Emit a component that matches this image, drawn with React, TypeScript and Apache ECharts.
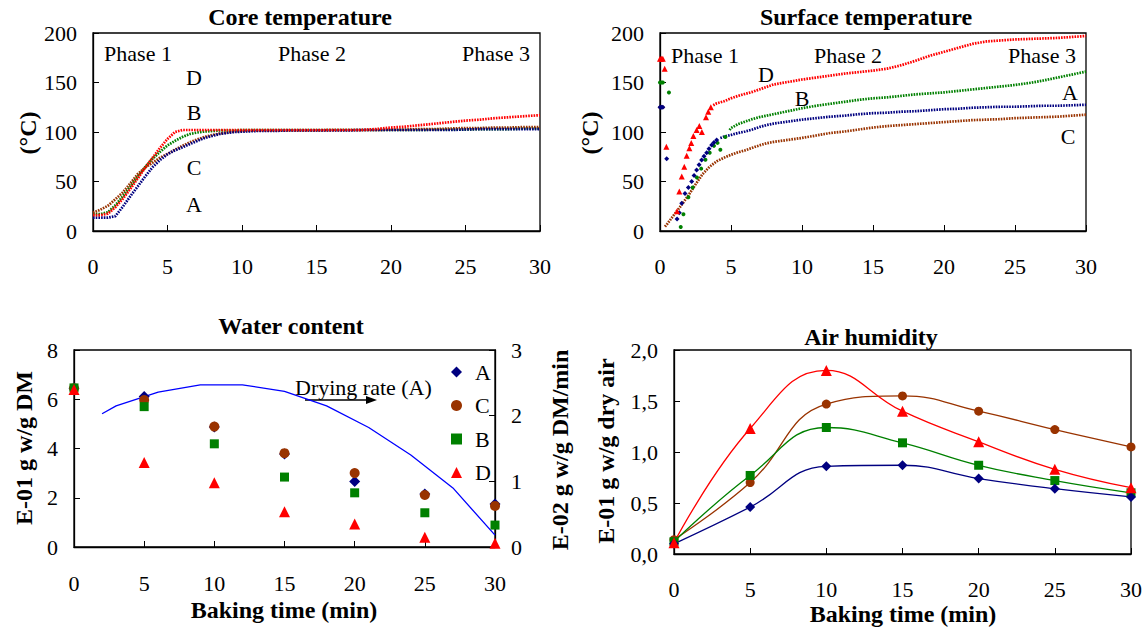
import React, { useEffect, useRef } from 'react';
import * as echarts from 'echarts';

const FONT = 'Liberation Serif, Times New Roman, serif';
const NAVY = '#000080';
const RED = '#FF0000';
const GREEN = '#008000';
const BROWN = '#993300';

// ---- Core temperature ----
const coreT = [0, 0.5, 1, 1.5, 2, 2.5, 3, 3.5, 4, 4.5, 5, 5.5, 6, 6.5, 7, 7.5, 8, 8.5, 9, 9.5, 10, 11, 12, 13, 14, 15, 16, 17, 18, 19, 20, 21, 22, 23, 24, 25, 26, 27, 28, 29, 30];
const coreA = [13.5, 13.5, 13.5, 15, 24.5, 35, 45, 55, 64.5, 71.7, 77.5, 81.5, 84.5, 87.8, 91, 94, 96, 98, 99, 100, 100.3, 101, 101, 101.5, 101.5, 101.5, 101.5, 101.5, 102, 102, 102, 102, 102, 102, 102, 102.5, 103, 103, 103, 103, 103];
const coreB = [17, 17, 19, 26, 35, 45, 55, 64.5, 73, 80, 86.5, 91, 95, 98, 99.5, 100.5, 101, 101.5, 101.5, 101.5, 102, 102, 102, 102, 102, 102, 102, 102, 102, 102, 102, 102, 102, 102.5, 102.5, 102.5, 103, 103, 103, 103.5, 103.5];
const coreC = [18.5, 21.5, 25.5, 32, 39, 48, 57.5, 64, 69, 74, 78, 82, 86, 89.5, 92.5, 95, 97, 98.5, 99.5, 100.5, 101, 101.5, 101.5, 101.5, 101.5, 101.5, 102, 102, 102, 102, 102.5, 102.5, 103, 103, 103.5, 104, 104, 104.5, 104.5, 105, 105];
const coreD = [16, 16, 17.5, 24, 32.5, 42.5, 53, 64, 74, 84, 93, 100, 102, 102, 102, 102, 102, 102, 102, 102, 102, 102, 102, 102, 102, 102, 102, 102, 102, 103, 104.5, 105.5, 107, 108.5, 110, 111.5, 112.5, 114, 115, 116, 117];

// ---- Surface temperature ----
const surfDEarlyT = [0, 0.1, 0.2, 0.33, 0.45, 1.2, 1.36, 1.53, 1.71, 1.88, 2.07, 2.2, 2.35, 2.58, 2.77, 2.95, 3.24, 3.4, 3.58];
const surfDEarly = [174, 174, 174, 164, 85, 20, 40, 55, 65, 76, 83.5, 89, 96, 102, 106, 100, 115, 120.5, 125];
const surfDT = [3.75, 4, 4.5, 5, 5.5, 6, 6.5, 7, 7.5, 8, 9, 10, 11, 12, 13, 14, 15, 16, 17, 18, 19, 20, 21, 22, 23, 24, 25, 26, 27, 28, 29, 30];
const surfD = [127, 129, 131, 134, 136.5, 138.5, 140.5, 143, 145.5, 148, 150.5, 153, 155, 157, 159, 160.5, 162, 164, 167.5, 172, 177, 181, 185, 189, 191.5, 192.5, 193.5, 194, 194.5, 195, 196, 197];

const surfBEarlyT = [0, 0.1, 0.2, 0.63, 1.46, 1.65, 2.0, 2.3, 2.6, 2.9, 3.2, 3.5, 3.8, 4.05, 4.25, 4.6];
const surfBEarly = [150, 150, 150, 140, 4, 17, 34, 44, 54, 63, 72, 79, 86, 89, 82, 95];
const surfBT = [4.9, 5, 5.5, 6, 6.5, 7, 7.5, 8, 9, 10, 11, 12, 13, 14, 15, 16, 17, 18, 19, 20, 21, 22, 23, 24, 25, 26, 27, 28, 29, 30];
const surfB = [102, 104, 108, 110.5, 113, 115, 116.5, 118, 121, 124, 126.5, 128.5, 130.5, 132.5, 134, 135, 136.5, 138, 139, 140, 141.5, 143, 144.5, 146, 147.5, 149.5, 152, 155, 158, 161];

const surfAEarlyT = [0, 0.1, 0.2, 0.47, 1.2, 1.36, 1.53, 1.76, 2.0, 2.23, 2.4, 2.58, 2.75, 2.93, 3.1, 3.29, 3.45, 3.64, 3.8, 3.99];
const surfAEarly = [125, 125, 125, 73, 12, 18.5, 28, 38, 44, 50, 56, 61.6, 67, 71.7, 75.5, 79, 83, 86.9, 89.5, 92];
const surfAT = [4.25, 4.5, 5, 5.5, 6, 6.5, 7, 7.5, 8, 9, 10, 11, 12, 13, 14, 15, 16, 17, 18, 19, 20, 21, 22, 23, 24, 25, 26, 27, 28, 29, 30];
const surfA = [94, 95.3, 97, 99, 100.5, 102.5, 105, 107, 108.5, 110.5, 112.5, 114, 115.5, 116.5, 118, 119, 119.5, 120.5, 121, 122, 123, 123.5, 124.5, 125, 125.5, 125.5, 126, 126.5, 126.5, 127, 127.5];

const surfCEarlyT = [0, 0.1, 0.2];
const surfCEarly = [125, 125, 125];
const surfCT = [0.35, 0.5, 1, 1.5, 2, 2.5, 3, 3.5, 4, 4.5, 5, 5.5, 6, 6.5, 7, 7.5, 8, 9, 10, 11, 12, 13, 14, 15, 16, 17, 18, 19, 20, 21, 22, 23, 24, 25, 26, 27, 28, 29, 30];
const surfC = [4.4, 7, 16.5, 26, 36, 47, 57.5, 65, 70.5, 74, 77, 79.5, 81.5, 84, 86.5, 88.6, 90, 92, 94, 96.5, 99, 100.5, 102.5, 104.5, 106, 107, 108, 109, 110, 111, 112, 112.5, 113, 114, 114.5, 115, 115.5, 116.5, 117.5];

// ---- Water content ----
const wcT = [0, 5, 10, 15, 20, 25, 30];
const wcA = [6.45, 6.11, 4.87, 3.78, 2.66, 2.15, 1.75];
const wcC = [6.45, 5.97, 4.89, 3.81, 3.0, 2.11, 1.67];
const wcB = [6.46, 5.7, 4.19, 2.84, 2.2, 1.39, 0.89];
const wcD = [6.4, 3.43, 2.61, 1.43, 0.93, 0.4, 0.15];
const drT = [2, 3, 6, 9, 12, 15, 18, 21, 24, 27, 30];
const drA = [2.03, 2.15, 2.36, 2.47, 2.47, 2.37, 2.15, 1.82, 1.4, 0.9, 0.18];

// ---- Air humidity ----
const ahT = [0, 5, 10, 15, 20, 25, 30];
const ahA = [0.1, 0.46, 0.86, 0.87, 0.74, 0.64, 0.56];
const ahC = [0.14, 0.7, 1.47, 1.55, 1.4, 1.22, 1.05];
const ahB = [0.12, 0.77, 1.24, 1.09, 0.87, 0.72, 0.6];
const ahD = [0.11, 1.23, 1.8, 1.4, 1.1, 0.83, 0.65];

const xTicks = [0, 5, 10, 15, 20, 25, 30];

const zip = (t: number[], v: number[]) => t.map((x, i) => [x, v[i]]);

const labelStyle = { fontSize: 22, fontFamily: FONT, color: '#000' };

const xAx = (gridIndex: number, margin = 26) => ({
  type: 'value',
  gridIndex,
  min: xTicks[0],
  max: xTicks[xTicks.length - 1],
  interval: xTicks[1] - xTicks[0],
  axisLine: { show: true, onZero: false, lineStyle: { color: '#000', width: 1.3 } },
  axisTick: { show: true, inside: true, length: 6, lineStyle: { color: '#000', width: 1 } },
  axisLabel: { ...labelStyle, margin, lineHeight: 18 },
  splitLine: { show: false },
});

const yAx = (gridIndex: number, max: number, interval: number, position = 'left', fmt?: (v: number) => string) => ({
  type: 'value',
  gridIndex,
  min: 0,
  max,
  interval,
  position,
  axisLine: { show: true, onZero: false, lineStyle: { color: '#000', width: 1.3 } },
  axisTick: { show: true, inside: true, length: 6, lineStyle: { color: '#000', width: 1 } },
  axisLabel: { ...labelStyle, margin: 16, formatter: fmt },
  splitLine: { show: false },
});

const dotted = (name: string, data: number[][], color: string, xi: number, yi: number, z = 2) => ({
  type: 'line',
  name,
  data,
  xAxisIndex: xi,
  yAxisIndex: yi,
  symbol: 'none',
  showSymbol: false,
  silent: true,
  z,
  lineStyle: { color, width: 2.7, type: [1.6, 1.1] },
});

const scat = (name: string, data: number[][], color: string, symbol: string, size: number, xi: number, yi: number, z = 3) => ({
  type: 'scatter',
  name,
  data,
  xAxisIndex: xi,
  yAxisIndex: yi,
  symbol,
  symbolSize: size,
  silent: true,
  z,
  itemStyle: { color, opacity: 1 },
});

const smoothLine = (name: string, data: number[][], color: string, symbol: string, size: number) => ({
  type: 'line',
  name,
  data,
  xAxisIndex: 3,
  yAxisIndex: 4,
  smooth: 0.45,
  symbol,
  symbolSize: size,
  showSymbol: true,
  silent: true,
  lineStyle: { color, width: 1.3 },
  itemStyle: { color, opacity: 1 },
});

const txt = (text: string, x: number, y: number, opts: any = {}) => ({
  type: 'text',
  x,
  y,
  rotation: opts.rotation || 0,
  silent: true,
  style: {
    text,
    fill: '#000',
    fontSize: opts.size || 22,
    fontWeight: opts.bold ? 'bold' : 'normal',
    fontFamily: FONT,
    align: opts.align || 'center',
    verticalAlign: 'middle',
  },
});

export default function App() {
  const ref = useRef<HTMLDivElement>(null);
  useEffect(() => {
    const chart = echarts.init(ref.current!, null, { renderer: 'svg' });
    const gridBase = { show: true, borderColor: '#000', borderWidth: 1.3, backgroundColor: 'transparent' };
    const option: any = {
      animation: false,
      backgroundColor: '#fff',
      grid: [
        { ...gridBase, left: 93, top: 33, width: 447, height: 198 },
        { ...gridBase, left: 660, top: 33, width: 426, height: 198 },
        { ...gridBase, left: 74, top: 350, width: 421, height: 197 },
        { ...gridBase, left: 674, top: 350, width: 457, height: 204 },
      ],
      xAxis: [xAx(0), xAx(1), xAx(2, 27), xAx(3, 26)],
      yAxis: [
        yAx(0, 200, 50),
        yAx(1, 200, 50),
        yAx(2, 8, 2),
        yAx(2, 3, 1, 'right'),
        yAx(3, 2, 0.5, 'left', (v: number) => v.toFixed(1).replace('.', ',')),
      ],
      legend: {
        data: ['A', 'C', 'B', 'D'],
        orient: 'vertical',
        left: 451,
        top: 361,
        padding: 0,
        itemWidth: 11,
        itemHeight: 11,
        itemGap: 11.5,
        selectedMode: false,
        textStyle: { ...labelStyle, lineHeight: 22, padding: [0, 0, 0, 8] },
      },
      series: [
        // Core temperature
        dotted('core B', zip(coreT, coreB), GREEN, 0, 0, 2),
        dotted('core C', zip(coreT, coreC), BROWN, 0, 0, 3),
        dotted('core A', zip(coreT, coreA), NAVY, 0, 0, 4),
        dotted('core D', zip(coreT, coreD), RED, 0, 0, 5),
        // Surface temperature
        dotted('surf C', zip(surfCT, surfC), BROWN, 1, 1, 2),
        scat('surf C0', zip(surfCEarlyT, surfCEarly), BROWN, 'circle', 3.5, 1, 1, 2),
        dotted('surf A', zip(surfAT, surfA), NAVY, 1, 1, 3),
        scat('surf A0', zip(surfAEarlyT, surfAEarly), NAVY, 'diamond', 5, 1, 1, 4),
        dotted('surf B', zip(surfBT, surfB), GREEN, 1, 1, 3),
        scat('surf B0', zip(surfBEarlyT, surfBEarly), GREEN, 'circle', 4, 1, 1, 3),
        dotted('surf D', zip(surfDT, surfD), RED, 1, 1, 4),
        scat('surf D0', zip(surfDEarlyT, surfDEarly), RED, 'triangle', 6, 1, 1, 4),
        // Water content
        {
          type: 'line',
          name: 'Drying rate (A)',
          data: zip(drT, drA),
          xAxisIndex: 2,
          yAxisIndex: 3,
          symbol: 'none',
          silent: true,
          lineStyle: { color: '#0000FF', width: 1.3 },
          z: 2,
        },
        scat('A', zip(wcT, wcA), NAVY, 'diamond', 11, 2, 2, 3),
        scat('C', zip(wcT, wcC), BROWN, 'circle', 10, 2, 2, 4),
        scat('B', zip(wcT, wcB), GREEN, 'rect', 9, 2, 2, 5),
        scat('D', zip(wcT, wcD), RED, 'triangle', 11, 2, 2, 6),
        // Air humidity
        smoothLine('air C', zip(ahT, ahC), BROWN, 'circle', 9),
        smoothLine('air B', zip(ahT, ahB), GREEN, 'rect', 9),
        smoothLine('air A', zip(ahT, ahA), NAVY, 'diamond', 10),
        smoothLine('air D', zip(ahT, ahD), RED, 'triangle', 11),
      ],
      graphic: [
        // titles
        txt('Core temperature', 300, 17, { bold: true, size: 24 }),
        txt('Surface temperature', 866, 17, { bold: true, size: 24 }),
        txt('Water content', 291, 326, { bold: true, size: 24 }),
        txt('Air humidity', 871, 337, { bold: true, size: 24 }),
        // axis names
        txt('(°C)', 28, 133, { bold: true, size: 24, rotation: Math.PI / 2 }),
        txt('(°C)', 590, 133, { bold: true, size: 24, rotation: Math.PI / 2 }),
        txt('E-01 g w/g DM', 24, 448, { bold: true, size: 24, rotation: Math.PI / 2 }),
        txt('E-02 g w/g DM/min', 560, 450, { bold: true, size: 24, rotation: Math.PI / 2 }),
        txt('E-01 g w/g dry air', 606, 451, { bold: true, size: 24, rotation: Math.PI / 2 }),
        txt('Baking time (min)', 284, 610, { bold: true, size: 24 }),
        txt('Baking time (min)', 903, 614, { bold: true, size: 24 }),
        // core annotations
        txt('Phase 1', 138, 53),
        txt('Phase 2', 312, 53),
        txt('Phase 3', 496, 53),
        txt('D', 194, 77),
        txt('B', 194, 112),
        txt('C', 194, 167),
        txt('A', 194, 204),
        // surface annotations
        txt('Phase 1', 705, 55),
        txt('Phase 2', 848, 55),
        txt('Phase 3', 1042, 55),
        txt('D', 766, 74),
        txt('B', 802, 98),
        txt('A', 1070, 92),
        txt('C', 1068, 136),
        // drying rate annotation
        txt('Drying rate (A)', 295, 387, { align: 'left' }),
        {
          type: 'line',
          silent: true,
          shape: { x1: 305, y1: 400, x2: 368, y2: 400 },
          style: { stroke: '#000', lineWidth: 1.5 },
        },
        {
          type: 'polygon',
          silent: true,
          shape: { points: [[366, 396], [377, 400], [366, 404]] },
          style: { fill: '#000' },
        },
      ],
    };
    chart.setOption(option);
    return () => chart.dispose();
  }, []);
  return (
    <div
      ref={ref}
      style={{ position: 'fixed', left: 0, top: 0, width: 1147, height: 627, background: '#fff' }}
    />
  );
}
